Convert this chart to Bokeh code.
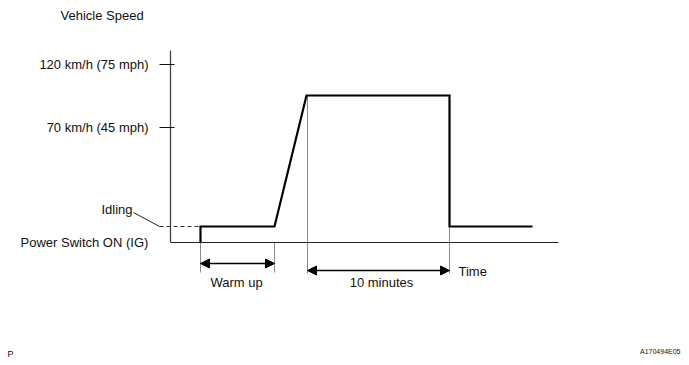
from bokeh.plotting import figure
from bokeh.models import Range1d, LinearAxis, FixedTicker, Arrow, NormalHead, ColumnDataSource
from bokeh.core.properties import value
from bokeh.embed import file_html
from bokeh.resources import INLINE

# ---- data (schematic units: time along x, speed level along y) ----
trace_t = [30, 30, 104, 136, 279, 279, 362]
trace_v = [0, 16, 16, 147, 147, 16, 16]

idle_dash_t = [-11, 30]
idle_dash_v = [16, 16]
leader_t = [-37, -11]
leader_v = [30, 16]

speed_ticks = [115, 178]
speed_tick_labels = ["70 km/h (45 mph)", "120 km/h (75 mph)"]
speed_axis_top = 192
time_axis_end = 388

warmup_start, warmup_end = 30, 104
ten_min_start, ten_min_end = 137, 279

FONT = value("Liberation Sans")

p = figure(width=681, height=357, x_range=Range1d(-170, 511), y_range=Range1d(-115, 242),
           output_backend="svg", toolbar_location=None, min_border=0,
           x_axis_type=None, y_axis_type=None)
p.outline_line_color = None
p.background_fill_color = "white"

# speed axis
yaxis = LinearAxis(fixed_location=0, bounds=(0, speed_axis_top),
                   ticker=FixedTicker(ticks=speed_ticks),
                   major_label_overrides={t: l for t, l in zip(speed_ticks, speed_tick_labels)})
yaxis.axis_line_color = "#444444"
yaxis.axis_line_width = 1.3
yaxis.major_tick_in = 4
yaxis.major_tick_out = 11
yaxis.major_tick_line_color = "#111111"
yaxis.minor_tick_line_color = None
yaxis.major_label_standoff = 11
yaxis.major_label_text_font = "Liberation Sans"
yaxis.major_label_text_font_size = "13px"
yaxis.major_label_text_color = "#111111"
p.add_layout(yaxis, "left")

# time axis (baseline)
xaxis = LinearAxis(fixed_location=0, bounds=(0, time_axis_end), ticker=FixedTicker(ticks=[]))
xaxis.axis_line_color = "#222222"
xaxis.axis_line_width = 1.1
xaxis.major_tick_line_color = None
xaxis.minor_tick_line_color = None
xaxis.major_label_text_color = None
p.add_layout(xaxis, "below")

# extension (dimension) lines
ext_src = ColumnDataSource(dict(
    xs=[[warmup_start, warmup_start], [warmup_end, warmup_end],
        [ten_min_start, ten_min_start], [ten_min_end, ten_min_end]],
    ys=[[0, -30], [0, -30], [trace_v[3], -31], [trace_v[5], -31]]))
p.multi_line("xs", "ys", source=ext_src, line_color="#8a8a8a", line_width=1)

# idling dashed line and leader
p.line(idle_dash_t, idle_dash_v, line_color="#333333", line_width=1, line_dash="4 3")
p.line(leader_t, leader_v, line_color="#222222", line_width=1)

# speed trace
p.line(trace_t, trace_v, line_color="black", line_width=2.2, line_join="miter")

# dimension arrows
for (s, e, v) in [(warmup_start, warmup_end, -21), (ten_min_start, ten_min_end, -28)]:
    p.add_layout(Arrow(x_start=s, y_start=v, x_end=e, y_end=v, line_color="black", line_width=1.5,
                       start=NormalHead(size=9, fill_color="black", line_color="black"),
                       end=NormalHead(size=9, fill_color="black", line_color="black")))

# texts
p.text(x=[-110], y=[227], text=["Vehicle Speed"], text_font=FONT, text_font_size="13px",
       text_color="#111111", text_align="left", text_baseline="middle")
p.text(x=[-69], y=[33], text=["Idling"], text_font=FONT, text_font_size="13px",
       text_color="#111111", text_align="left", text_baseline="middle")
p.text(x=[-150], y=[0], text=["Power Switch ON (IG)"], text_font=FONT, text_font_size="13px",
       text_color="#111111", text_align="left", text_baseline="middle")
p.text(x=[66], y=[-40], text=["Warm up"], text_font=FONT, text_font_size="13px",
       text_color="#111111", text_align="center", text_baseline="middle")
p.text(x=[211], y=[-40], text=["10 minutes"], text_font=FONT, text_font_size="13px",
       text_color="#111111", text_align="center", text_baseline="middle")
p.text(x=[288], y=[-29], text=["Time"], text_font=FONT, text_font_size="13px",
       text_color="#111111", text_align="left", text_baseline="middle")
p.text(x=[-163], y=[-111], text=["P"], text_font=FONT, text_font_size="9px",
       text_color="#111111", text_align="left", text_baseline="middle")
p.text(x=[510], y=[-109], text=["A170494E05"], text_font=FONT, text_font_size="7px",
       text_color="#111111", text_align="right", text_baseline="middle")

open("out.html", "w").write(file_html(p, INLINE))
